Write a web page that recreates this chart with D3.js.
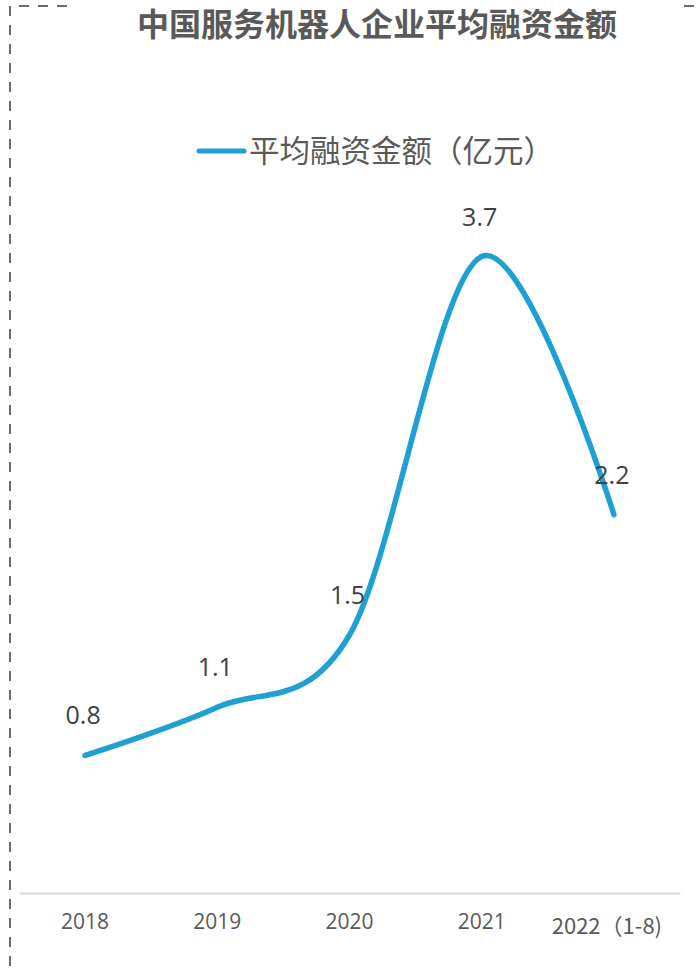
<!DOCTYPE html>
<html>
<head>
<meta charset="utf-8">
<script src="https://cdn.jsdelivr.net/npm/d3@7"></script>
<style>
  body { margin: 0; background: #fff; }
  svg { display: block; }
</style>
</head>
<body>
<svg id="main"></svg>
<script>
let years = ['2018', '2019', '2020', '2021', '2022（1-8)']
let amounts = [0.8, 1.08, 1.5, 3.7, 2.2]
let valueLabels = ['0.8', '1.1', '1.5', '3.7', '2.2']

let width = 699
let height = 972
let lineColor = '#1fa0d5'
let cjk = '"Noto Sans CJK SC", "Noto Sans", sans-serif'
let num = '"Open Sans", "Noto Sans", sans-serif'

let svg = d3.select('#main')
    .attr('width', width)
    .attr('height', height)

// dashed frame (left + top)
svg.append('line')
    .attr('x1', 10).attr('y1', 6).attr('x2', 10).attr('y2', height)
    .attr('stroke', '#6b6b6b').attr('stroke-width', 2)
    .attr('stroke-dasharray', '10 9')
svg.append('line')
    .attr('x1', 10).attr('y1', 6).attr('x2', width).attr('y2', 6)
    .attr('stroke', '#6b6b6b').attr('stroke-width', 2)
    .attr('stroke-dasharray', '10 9')
    .attr('stroke-dashoffset', -9)
// title box hides the top border
svg.append('rect')
    .attr('x', 72).attr('y', 0).attr('width', 608).attr('height', 50)
    .attr('fill', '#fff')

svg.append('text')
    .attr('x', 377).attr('y', 36)
    .attr('text-anchor', 'middle')
    .attr('font-family', cjk)
    .attr('font-weight', 'bold')
    .attr('font-size', 32)
    .attr('fill', '#595959')
    .text('中国服务机器人企业平均融资金额')

// legend
svg.append('line')
    .attr('x1', 199).attr('x2', 244).attr('y1', 151).attr('y2', 151)
    .attr('stroke', lineColor).attr('stroke-width', 5)
    .attr('stroke-linecap', 'round')
svg.append('text')
    .attr('x', 249).attr('y', 162)
    .attr('font-family', cjk)
    .attr('font-size', 30.5)
    .attr('fill', '#595959')
    .text('平均融资金额（亿元）')

let xScale = d3.scaleBand()
    .domain(years)
    .range([19, 680])

let yScale = d3.scaleLinear()
    .domain([0, 4])
    .range([893, 205])

let cx = d => xScale(d) + xScale.bandwidth() / 2

// axis
let xAxis = d3.axisBottom(xScale).tickSize(0).tickPadding(0)
let gx = svg.append('g')
    .attr('transform', 'translate(0, 893)')
    .call(xAxis)
gx.select('.domain')
    .attr('stroke', '#d9d9d9')
    .attr('stroke-width', 2)
gx.selectAll('.tick text')
    .attr('fill', '#595959')
    .attr('dy', null)
    .attr('y', (d, i) => i === 4 ? 41 : 36)
    .attr('x', (d, i) => i === 4 ? -7 : 0)
    .attr('font-family', (d, i) => i === 4 ? cjk : num)
    .attr('font-size', (d, i) => i === 4 ? 22 : 21)

// line
let line = d3.line()
    .x((d, i) => cx(years[i]))
    .y(d => yScale(d))
    .curve(d3.curveCardinal.tension(0))

svg.append('path')
    .datum(amounts)
    .attr('d', line)
    .attr('fill', 'none')
    .attr('stroke', lineColor)
    .attr('stroke-width', 5.5)
    .attr('stroke-linecap', 'round')

// data labels
svg.selectAll('.vlabel')
    .data(amounts)
    .enter()
    .append('text')
    .attr('class', 'vlabel')
    .attr('x', (d, i) => cx(years[i]) - 2)
    .attr('y', d => yScale(d) - 31)
    .attr('text-anchor', 'middle')
    .attr('font-family', num)
    .attr('font-size', 25)
    .attr('fill', '#404040')
    .text((d, i) => valueLabels[i])
</script>
</body>
</html>
